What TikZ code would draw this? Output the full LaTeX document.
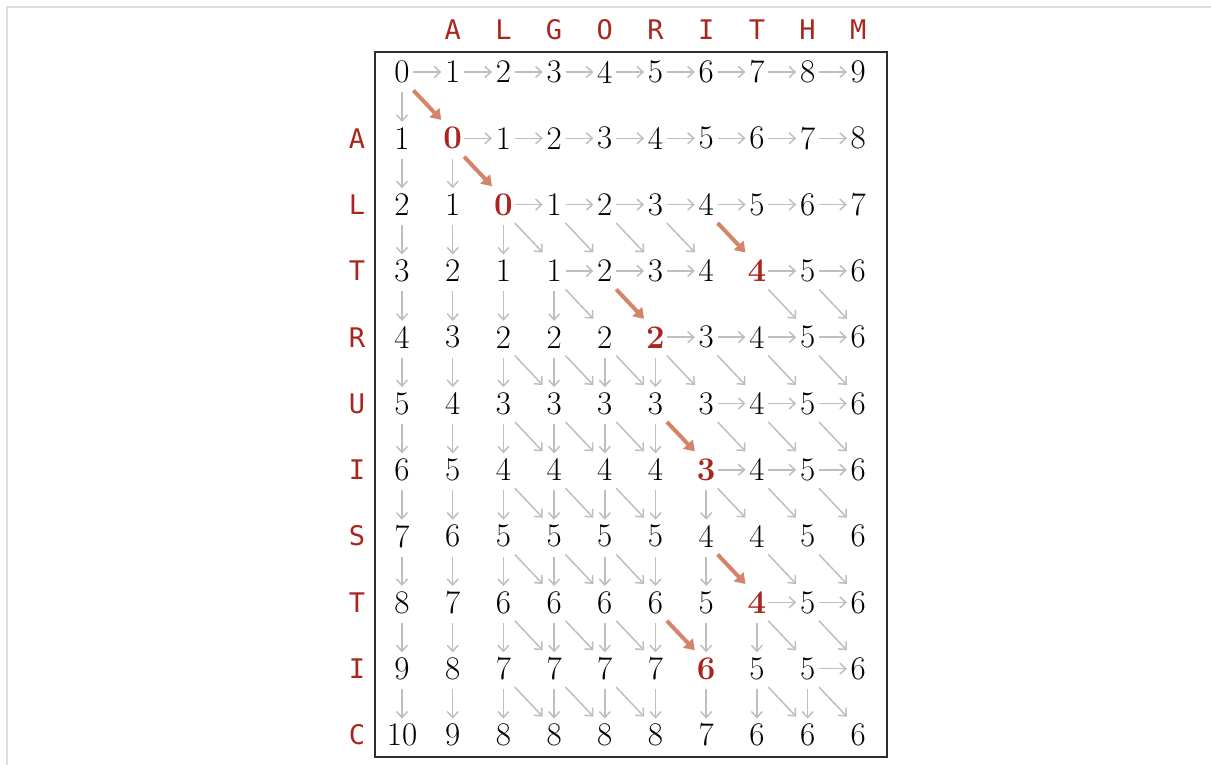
\documentclass[tikz,border=0pt]{standalone}
\usepackage{fontspec}
\newfontfamily\lettfont{DejaVu Sans Mono}
\usetikzlibrary{arrows.meta}
\definecolor{dpred}{RGB}{168,38,30}
\definecolor{salmon}{RGB}{212,132,104}
\definecolor{arrgray}{RGB}{190,190,190}
\definecolor{framegray}{RGB}{222,222,222}
\definecolor{boxgray}{RGB}{45,45,45}
\newcommand\rv[1]{\textcolor{dpred}{\bfseries#1}}
\begin{document}
\begin{tikzpicture}[x=0.5pt,y=-0.5pt,
  cell/.style={minimum width=11pt,minimum height=18pt,inner sep=0pt,font=\fontsize{16.5}{18}\selectfont\addfontfeatures{FakeBold=0.4}},
  lett/.style={text=dpred,font=\lettfont\fontsize{13.5}{14}\selectfont,inner sep=0pt},
  garrow/.style={draw=arrgray,line width=0.75pt,-{Straight Barb[length=3pt,width=5.5pt]}},
  rarrow/.style={draw=salmon,line width=2pt,-{Triangle[length=5pt,width=6.5pt]}},
  frameline/.style={draw=framegray,line width=1.2pt},
  tablebox/.style={draw=boxgray,line width=1pt}]
\useasboundingbox (0,0) rectangle (1211,765);
\draw[frameline] (7,765) -- (7,7) -- (1211,7);
\draw[tablebox] (375,52) rectangle (887,757);
% column and row labels
\foreach \L [count=\j] in {A,L,G,O,R,I,T,H,M}
  \node[lett] (h\j) at ({402+50.7*\j},30) {\L};
\foreach \L [count=\i] in {A,L,T,R,U,I,S,T,I,C}
  \node[lett] (r\i) at (357,{72+66.3*\i}) {\L};
% table values
\foreach \i/\r in {
  0/{0,1,2,3,4,5,6,7,8,9},
  1/{1,\rv{0},1,2,3,4,5,6,7,8},
  2/{2,1,\rv{0},1,2,3,4,5,6,7},
  3/{3,2,1,1,2,3,4,\rv{4},5,6},
  4/{4,3,2,2,2,\rv{2},3,4,5,6},
  5/{5,4,3,3,3,3,3,4,5,6},
  6/{6,5,4,4,4,4,\rv{3},4,5,6},
  7/{7,6,5,5,5,5,4,4,5,6},
  8/{8,7,6,6,6,6,5,\rv{4},5,6},
  9/{9,8,7,7,7,7,\rv{6},5,5,6},
  10/{10,9,8,8,8,8,7,6,6,6}}
  \foreach \v [count=\j from 0] in \r
    \node[cell] (c\i-\j) at ({402+50.7*\j},{72+66.3*\i}) {\v};
% horizontal arrows (row / target columns)
\foreach \i/\js in {0/{1,2,3,4,5,6,7,8,9},1/{2,3,4,5,6,7,8,9},2/{3,4,5,6,7,8,9},
  3/{4,5,6,8,9},4/{6,7,8,9},5/{7,8,9},6/{7,8,9},8/{8,9},9/{9}}
  \foreach \j in \js {
    \pgfmathtruncatemacro\k{\j-1}
    \draw[garrow] (c\i-\k.east) -- (c\i-\j.west);
  }
% vertical arrows (target row / columns)
\foreach \i/\js in {1/{0},2/{0,1},3/{0,1,2},4/{0,1,2,3},5/{0,1,2,3,4,5},
  6/{0,1,2,3,4,5},7/{0,1,2,3,4,5,6},8/{0,1,2,3,4,5,6},9/{0,1,2,3,4,5,6,7},
  10/{0,1,2,3,4,5,6,7,8}}
  \foreach \j in \js {
    \pgfmathtruncatemacro\k{\i-1}
    \draw[garrow] ([yshift=-1pt]c\k-\j.south) -- ([yshift=-1pt]c\i-\j.north);
  }
% diagonal gray arrows (target row / columns)
\foreach \i/\js in {3/{3,4,5,6},4/{4,8,9},5/{3,4,5,6,7,8,9},6/{3,4,5,7,8,9},
  7/{3,4,5,7,8,9},8/{3,4,5,8,9},9/{3,4,5,8,9},10/{3,4,5,8,9}}
  \foreach \j in \js {
    \pgfmathtruncatemacro\k{\i-1}
    \pgfmathtruncatemacro\l{\j-1}
    \draw[garrow] (c\k-\l.south east) -- (c\i-\j.north west);
  }
% red diagonal arrows (matches)
\foreach \i/\j in {1/1,2/2,3/7,4/5,6/6,8/7,9/6} {
  \pgfmathtruncatemacro\k{\i-1}
  \pgfmathtruncatemacro\l{\j-1}
  \draw[rarrow] (c\k-\l.south east) -- (c\i-\j.north west);
}
\end{tikzpicture}
\end{document}
